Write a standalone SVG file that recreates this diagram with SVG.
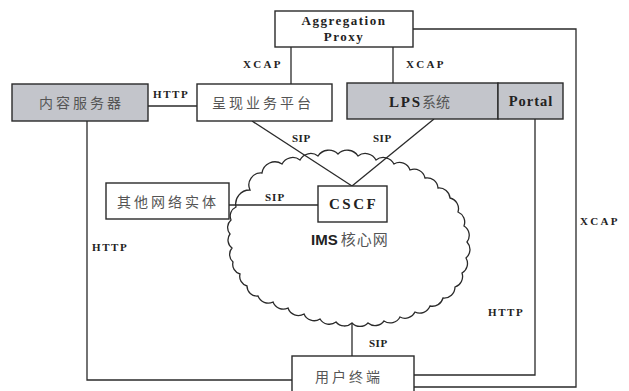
<svg xmlns="http://www.w3.org/2000/svg" width="629" height="391" viewBox="0 0 629 391">
<style>
.box{fill:#fff;stroke:#2a2a2a;stroke-width:1.4}
.gray{fill:#c3c5cb;stroke:#2a2a2a;stroke-width:1.4}
.ln{fill:none;stroke:#2a2a2a;stroke-width:1.3}
.lbl{font-family:"Liberation Serif",serif;font-weight:bold;font-size:11px;fill:#222;letter-spacing:2.3px}
.en{font-family:"Liberation Serif",serif;font-weight:bold;fill:#222}
.zh{font-family:"Noto Sans CJK SC","Liberation Sans",sans-serif;font-size:14px;fill:#555;letter-spacing:3px}
</style>
<rect width="629" height="391" fill="#fff"/>
<g id="ims-cloud">
<path class="ln" d="M250 190 A12 12 0 0 1 262 173 A13 13 0 0 1 282 164 A12 12 0 0 1 300 160 A12 12 0 0 1 318 156 A13 13 0 0 1 338 154 A13 13 0 0 1 358 156 A12 12 0 0 1 376 160 A12 12 0 0 1 394 164 A11 11 0 0 1 410 170 A11 11 0 0 1 425 178 A11 11 0 0 1 438 188 A11 11 0 0 1 450 198 A11 11 0 0 1 458 212 A11 11 0 0 1 464 226 A11 11 0 0 1 467 242 A11 11 0 0 1 466 258 A11 11 0 0 1 462 273 A11 11 0 0 1 455 287 A11 11 0 0 1 443 298 A11 11 0 0 1 430 306 A11 11 0 0 1 415 312 A11 11 0 0 1 400 317 A11 11 0 0 1 384 321 A11 11 0 0 1 368 323 A11 11 0 0 1 352 323 A11 11 0 0 1 336 322 A11 11 0 0 1 320 319 A11 11 0 0 1 304 314 A11 11 0 0 1 288 308 A11 11 0 0 1 273 302 A11 11 0 0 1 258 296 A10 10 0 0 1 247 286 A10 10 0 0 1 240 274 A10 10 0 0 1 233 262 A10 10 0 0 1 232 248 A10 10 0 0 1 230 234 A10 10 0 0 1 231 220 A10 10 0 0 1 236 207 A14 14 0 0 1 250 190 Z"/>
<text x="311" y="245" font-family="'Liberation Sans',sans-serif" font-weight="bold" font-size="15" fill="#222">IMS<tspan font-family="'Noto Sans CJK SC',sans-serif" font-weight="normal" fill="#555" dx="3" letter-spacing="1">核心网</tspan></text>
</g>
<g id="connectors">
<path class="ln" d="M291 47V84"/>
<path class="ln" d="M393 47V83"/>
<path class="ln" d="M148 106H197"/>
<path class="ln" d="M252 121L352 186"/>
<path class="ln" d="M434 119L352 186"/>
<path class="ln" d="M229 205H318"/>
<path class="ln" d="M352 323V356"/>
<path class="ln" d="M87 121V380H292"/>
<path class="ln" d="M535 119V375H414"/>
<path class="ln" d="M413 29H576V387H414"/>
<text class="lbl" x="243" y="68">XCAP</text>
<text class="lbl" x="406" y="68">XCAP</text>
<text class="lbl" x="153" y="98" style="letter-spacing:1.6px">HTTP</text>
<text class="lbl" x="292" y="142" style="letter-spacing:0.5px">SIP</text>
<text class="lbl" x="373" y="142" style="letter-spacing:0.5px">SIP</text>
<text class="lbl" x="265" y="201" style="letter-spacing:1px">SIP</text>
<text class="lbl" x="92" y="251" style="letter-spacing:1.6px">HTTP</text>
<text class="lbl" x="488" y="316" style="letter-spacing:1.6px">HTTP</text>
<text class="lbl" x="580" y="225">XCAP</text>
<text class="lbl" x="369" y="347" style="letter-spacing:0.5px">SIP</text>
</g>
<g id="aggregation-proxy">
<rect class="box" x="275" y="11" width="138" height="36"/>
<text class="en" x="344" y="25" font-size="13" text-anchor="middle" letter-spacing="1.5">Aggregation</text>
<text class="en" x="344" y="41" font-size="13" text-anchor="middle" letter-spacing="1.5">Proxy</text>
</g>
<g id="content-server">
<rect class="gray" x="12" y="84" width="136" height="37"/>
<text class="zh" x="39" y="108">内容服务器</text>
</g>
<g id="presence-platform">
<rect class="box" x="197" y="84" width="135" height="37"/>
<text class="zh" x="212" y="108" letter-spacing="3.4">呈现业务平台</text>
</g>
<g id="lps">
<rect class="gray" x="347" y="83" width="151" height="36"/>
<text x="389" y="107" font-size="15"><tspan class="en" letter-spacing="1.8">LPS</tspan><tspan font-family="'Noto Sans CJK SC',sans-serif" fill="#555" font-size="14">系统</tspan></text>
</g>
<g id="portal">
<rect class="gray" x="498" y="83" width="65" height="36"/>
<text class="en" x="531" y="106" font-size="14.5" text-anchor="middle" letter-spacing="1">Portal</text>
</g>
<g id="cscf">
<rect class="box" x="318" y="186" width="69" height="36"/>
<text class="en" x="329" y="209" font-size="15" letter-spacing="2.5">CSCF</text>
</g>
<g id="other-entity">
<rect class="box" x="106" y="183" width="123" height="36"/>
<text class="zh" x="117" y="207">其他网络实体</text>
</g>
<g id="user-terminal">
<rect class="box" x="292" y="356" width="122" height="44"/>
<text class="zh" x="315" y="382">用户终端</text>
</g>
</svg>
